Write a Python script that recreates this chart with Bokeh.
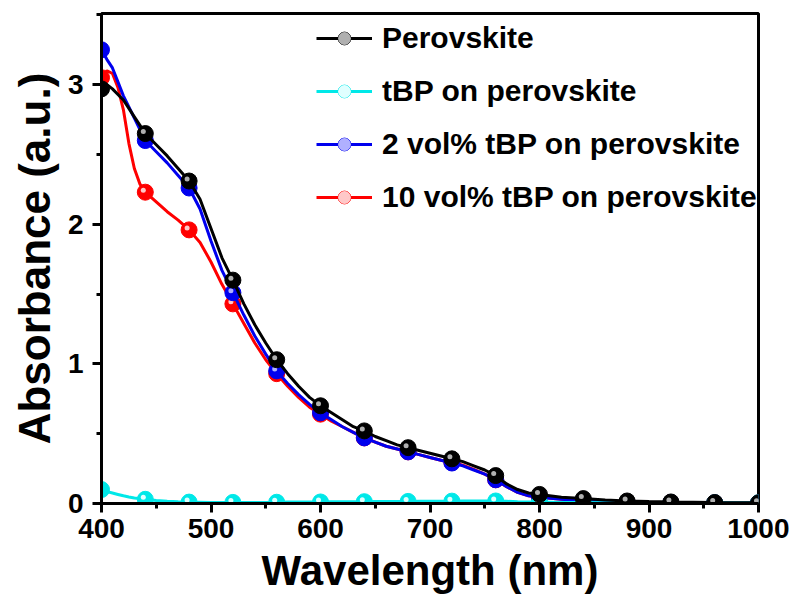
from bokeh.plotting import figure
from bokeh.models import Range1d, SingleIntervalTicker, Legend, LegendItem, ColumnDataSource
from bokeh.embed import file_html
from bokeh.resources import INLINE

wavelength = [400, 405, 410, 415, 420, 425, 430, 435, 440,
              450, 460, 470, 480, 490, 500, 510, 520, 530, 540, 550, 560, 570, 580, 590, 600,
              610, 620, 630, 640, 650, 660, 670, 680, 690, 700, 710, 720, 730, 740, 750, 760,
              770, 780, 790, 800,
              820, 840, 860, 880, 900, 920, 940, 960, 980, 1000]

perovskite = [2.97, 3.00, 2.97, 2.93, 2.89, 2.83, 2.77, 2.71, 2.65,
              2.57, 2.49, 2.40, 2.31, 2.18, 1.97, 1.76, 1.60, 1.43, 1.28, 1.15, 1.03, 0.93, 0.84, 0.76, 0.70,
              0.65, 0.60, 0.55, 0.52, 0.48, 0.45, 0.42, 0.40, 0.38, 0.36, 0.34, 0.32, 0.30, 0.27, 0.24, 0.20,
              0.14, 0.10, 0.075, 0.065,
              0.045, 0.035, 0.025, 0.018, 0.014, 0.011, 0.009, 0.007, 0.006, 0.005]

tbp = [0.10, 0.085, 0.075, 0.065, 0.055, 0.047, 0.04, 0.035, 0.03,
       0.022, 0.016, 0.012, 0.01, 0.009, 0.008, 0.008, 0.008, 0.008, 0.008, 0.008, 0.009, 0.01, 0.01, 0.011, 0.011,
       0.012, 0.012, 0.013, 0.013, 0.014, 0.014, 0.015, 0.015, 0.016, 0.016, 0.017, 0.017, 0.018, 0.018, 0.018, 0.018,
       0.016, 0.013, 0.011, 0.01,
       0.008, 0.007, 0.006, 0.006, 0.005, 0.005, 0.005, 0.005, 0.005, 0.005]

tbp2 = [3.25, 3.18, 3.12, 3.02, 2.92, 2.84, 2.76, 2.68, 2.60,
        2.52, 2.44, 2.35, 2.26, 2.11, 1.88, 1.67, 1.51, 1.35, 1.20, 1.07, 0.95, 0.86, 0.78, 0.71, 0.65,
        0.60, 0.55, 0.51, 0.47, 0.44, 0.41, 0.39, 0.37, 0.35, 0.33, 0.31, 0.29, 0.27, 0.24, 0.21, 0.17,
        0.12, 0.08, 0.055, 0.045,
        0.03, 0.02, 0.014, 0.01, 0.008, 0.007, 0.006, 0.005, 0.004, 0.004]

tbp10 = [3.05, 3.10, 3.08, 2.98, 2.82, 2.58, 2.40, 2.29, 2.23,
         2.16, 2.09, 2.03, 1.96, 1.87, 1.73, 1.57, 1.43, 1.29, 1.15, 1.03, 0.93, 0.84, 0.76, 0.69, 0.64,
         0.59, 0.55, 0.51, 0.47, 0.44, 0.41, 0.39, 0.37, 0.35, 0.33, 0.31, 0.295, 0.275, 0.245, 0.21, 0.17,
         0.12, 0.08, 0.055, 0.045,
         0.03, 0.02, 0.014, 0.01, 0.008, 0.007, 0.006, 0.005, 0.004, 0.004]

marker_wavelength = [400, 440, 480, 520, 560, 600, 640, 680, 720, 760, 800, 840, 880, 920, 960, 1000]

labels = ["Perovskite", "tBP on perovskite", "2 vol% tBP on perovskite", "10 vol% tBP on perovskite"]
series = [perovskite, tbp, tbp2, tbp10]
colors = ["#000000", "#00e8e8", "#0000ee", "#ff0000"]
highlights = ["#b0b0b0", "#e0ffff", "#b0b0ff", "#ffc8c8"]

FONT = "Liberation Sans"
X0, X1, Y0, Y1 = 400, 1000, 0, 3.51
FRAME_W, FRAME_H = 657, 490

p = figure(width=789, height=600, output_backend="svg", toolbar_location=None,
           x_range=Range1d(X0, X1), y_range=Range1d(Y0, Y1),
           min_border_left=101, min_border_right=31, min_border_top=13, min_border_bottom=97)
p.background_fill_color = "white"
p.border_fill_color = "white"
p.grid.visible = False
p.outline_line_color = "black"
p.outline_line_width = 3

p.xaxis.ticker = SingleIntervalTicker(interval=100, num_minor_ticks=2)
p.yaxis.ticker = SingleIntervalTicker(interval=1, num_minor_ticks=2)
p.xaxis.axis_label = "Wavelength (nm)"
p.yaxis.axis_label = "Absorbance (a.u.)"
for ax in (p.xaxis, p.yaxis):
    ax.axis_line_width = 3
    ax.axis_line_color = "black"
    ax.major_tick_line_width = 3
    ax.minor_tick_line_width = 3
    ax.major_tick_out = 9
    ax.major_tick_in = 0
    ax.minor_tick_out = 5
    ax.minor_tick_in = 0
    ax.major_label_text_font = FONT
    ax.major_label_text_font_style = "bold"
    ax.major_label_text_font_size = "28px"
    ax.major_label_text_color = "black"
    ax.axis_label_text_font = FONT
    ax.axis_label_text_font_style = "bold"
    ax.axis_label_text_color = "black"
p.xaxis.axis_label_text_font_size = "42px"
p.yaxis.axis_label_text_font_size = "44px"
p.xaxis.major_label_standoff = 6
p.xaxis.axis_label_standoff = 6
p.yaxis.major_label_standoff = 9
p.yaxis.axis_label_standoff = 6

# highlight offset: ~2 px up-left, converted to data units
dx = -2.0 * (X1 - X0) / FRAME_W
dy = 2.0 * (Y1 - Y0) / FRAME_H

draw_order = [3, 2, 1, 0]
items = {}
for i in draw_order:
    vals = series[i]
    mv = [vals[wavelength.index(w)] for w in marker_wavelength]
    src = ColumnDataSource(dict(x=wavelength, y=vals))
    msrc = ColumnDataSource(dict(x=marker_wavelength, y=mv,
                                 hx=[w + dx for w in marker_wavelength], hy=[v + dy for v in mv]))
    r1 = p.line("x", "y", source=src, line_color=colors[i], line_width=3)
    r2 = p.scatter("x", "y", source=msrc, size=16, fill_color=colors[i], line_color=colors[i], line_width=1)
    r3 = p.scatter("hx", "hy", source=msrc, size=5, fill_color=highlights[i], line_color=None)
    items[i] = [r1, r2, r3]

legend = Legend(items=[LegendItem(label=labels[i], renderers=items[i]) for i in range(4)],
                location=(215, 289))
legend.border_line_color = None
legend.background_fill_alpha = 0
legend.padding = 0
legend.margin = 0
legend.spacing = 19
legend.glyph_width = 56
legend.glyph_height = 32
legend.label_height = 32
legend.label_standoff = 10
legend.label_text_font = FONT
legend.label_text_font_style = "bold"
legend.label_text_font_size = "30px"
legend.label_text_color = "black"
p.add_layout(legend)

open("out.html", "w").write(file_html(p, INLINE))
